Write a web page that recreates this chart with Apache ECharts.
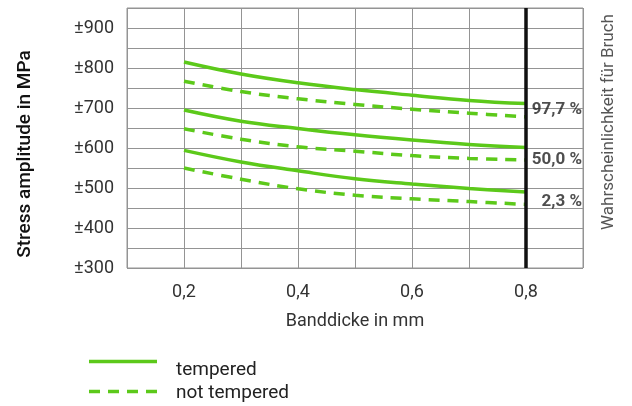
<!DOCTYPE html>
<html><head><meta charset="utf-8">
<script src="https://cdn.jsdelivr.net/npm/echarts@6/dist/echarts.min.js"></script>
<style>html,body{margin:0;padding:0;background:#fff}#c{width:632px;height:406px}</style>
</head><body><div id="c"></div>
<script>
const thickness = [0.2, 0.3, 0.4, 0.5, 0.6, 0.7, 0.8];
const tempered977 = [815, 785, 763, 746, 732, 719, 711];
const notTempered977 = [767, 741, 723, 709, 697, 687, 678];
const tempered500 = [695, 667, 649, 633, 620, 609, 601];
const notTempered500 = [648, 622, 603, 592, 581, 574, 570];
const tempered23 = [594, 565, 543, 523, 510, 499, 490];
const notTempered23 = [550, 522, 498, 482, 473, 466, 459];
const probLabels = ['97,7 %', '50,0 %', '2,3 %'];
const probLabelValues = [695, 570, 466];
const xTickLabels = [0.2, 0.4, 0.6, 0.8];
const yTickLabels = [300, 400, 500, 600, 700, 800, 900];
const markerX = 0.8;
const legendNames = ['tempered', 'not tempered'];

const GREEN = '#5cc91a';
const GRID = '#949494';
const FONT = 'Roboto';
const pair = (ys) => thickness.map((x, i) => [x, ys[i]]);

function lineSeries(name, ys, dashed) {
  return {
    name: name, type: 'line', smooth: 0.4, showSymbol: false, symbol: 'none',
    data: pair(ys), z: 3,
    lineStyle: { color: GREEN, width: 3.5, type: dashed ? [11, 8] : 'solid' }
  };
}

const chart = echarts.init(document.getElementById('c'), null, { renderer: 'canvas' });
const option = {
  animation: false,
  textStyle: { fontFamily: FONT },
  grid: { left: 127, right: 49, top: 8, bottom: 138, show: true, borderColor: GRID, borderWidth: 1 },
  xAxis: {
    type: 'value', min: 0.1, max: 0.9, interval: 0.1,
    axisLine: { show: false }, axisTick: { show: false },
    splitLine: { show: true, lineStyle: { color: GRID, width: 1 } },
    axisLabel: {
      color: '#333', fontSize: 18, fontFamily: FONT, margin: 15,
      formatter: (v) => {
        const r = Math.round(v * 10) / 10;
        return xTickLabels.some(t => Math.abs(t - r) < 1e-6) ? r.toFixed(1).replace('.', ',') : '';
      }
    },
    name: 'Banddicke in mm', nameLocation: 'middle', nameGap: 44,
    nameTextStyle: { color: '#333', fontSize: 18, fontFamily: FONT }
  },
  yAxis: [{
    type: 'value', min: 300, max: 950, interval: 50,
    axisLine: { show: false }, axisTick: { show: false },
    splitLine: { show: true, lineStyle: { color: GRID, width: 1 } },
    axisLabel: {
      color: '#333', fontSize: 18, fontFamily: FONT, margin: 13,
      formatter: (v) => yTickLabels.indexOf(Math.round(v)) >= 0 ? '±' + Math.round(v) : ''
    },
    name: 'Stress amplitude in MPa', nameLocation: 'middle', nameGap: 92, nameRotate: 90,
    nameTextStyle: { color: '#111', fontSize: 19, fontWeight: 500, fontFamily: FONT, padding: [0, 32, 0, 0] }
  }, {
    type: 'value', min: 300, max: 950, position: 'right',
    axisLine: { show: false }, axisTick: { show: false }, splitLine: { show: false },
    axisLabel: { show: false },
    name: 'Wahrscheinlichkeit für Bruch', nameLocation: 'middle', nameGap: 17, nameRotate: 90,
    nameTextStyle: { color: '#555', fontSize: 17, fontFamily: FONT, padding: [0, 0, 0, 32] }
  }],
  series: [
    lineSeries('tempered', tempered977, false),
    lineSeries('not tempered', notTempered977, true),
    lineSeries('tempered', tempered500, false),
    lineSeries('not tempered', notTempered500, true),
    lineSeries('tempered', tempered23, false),
    lineSeries('not tempered', notTempered23, true),
    {
      type: 'line', data: [], symbol: 'none', z: 4,
      markLine: {
        silent: true, symbol: 'none', label: { show: false },
        lineStyle: { color: '#111', width: 3.5, type: 'solid' },
        data: [{ xAxis: markerX }]
      }
    },
    {
      type: 'scatter', symbolSize: 0, z: 5,
      data: probLabels.map((t, i) => ({ value: [0.9, probLabelValues[i]], name: t })),
      label: {
        show: true, position: 'left', distance: 1, formatter: (p) => p.name,
        color: '#222', fontSize: 17, fontWeight: 'bold', fontFamily: FONT
      }
    }
  ],
  graphic: [
    { type: 'line', shape: { x1: 89, y1: 361.5, x2: 157, y2: 361.5 }, style: { stroke: GREEN, lineWidth: 3.5 } },
    { type: 'line', shape: { x1: 89, y1: 391.5, x2: 157, y2: 391.5 }, style: { stroke: GREEN, lineWidth: 3.5, lineDash: [11, 8] } },
    { type: 'text', left: 176, top: 361, style: { text: legendNames[0], fill: '#222', font: '19px ' + FONT } },
    { type: 'text', left: 176, top: 384, style: { text: legendNames[1], fill: '#222', font: '19px ' + FONT } }
  ]
};
chart.setOption(option);
</script></body></html>
